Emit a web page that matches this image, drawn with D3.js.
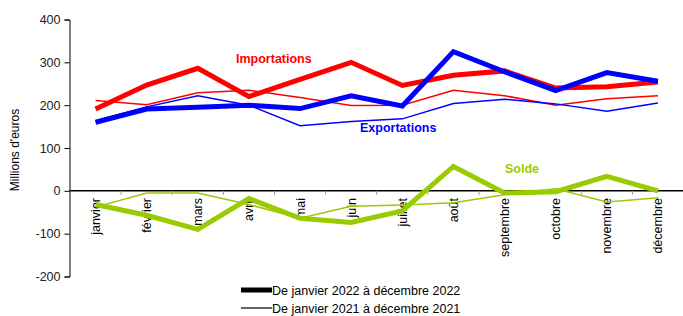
<!DOCTYPE html>
<html>
<head>
<meta charset="utf-8">
<script src="https://d3js.org/d3.v7.min.js"></script>
<style>
  body { margin: 0; background: #fff; }
  svg { display: block; font-family: "Liberation Sans", Arial, sans-serif; }
</style>
</head>
<body>
<div id="chart"></div>
<script>
// months on the category axis
var months = ["janvier", "février", "mars", "avril", "mai", "juin", "juillet", "août", "septembre", "octobre", "novembre", "décembre"];
var yTicks = [-200, -100, 0, 100, 200, 300, 400];

// 2022 (thick lines)
var imp2022 = [191, 247, 286, 220, 260, 300, 246, 270, 280, 240, 243, 254];
var exp2022 = [160, 191, 195, 200, 192, 222, 198, 325, 278, 234, 276, 256];
var solde2022 = [-32, -57, -90, -18, -64, -74, -47, 57, -5, -2, 34, 0];

// 2021 (thin lines)
var imp2021 = [211, 201, 229, 235, 218, 199, 200, 235, 222, 200, 215, 222];
var exp2021 = [164, 196, 222, 200, 152, 162, 168, 204, 214, 203, 186, 205];
var solde2021 = [-38, -5, -5, -32, -64, -36, -33, -28, -9, 5, -26, -16];

var W = 683, H = 316;
var svg = d3.select("#chart").append("svg").attr("width", W).attr("height", H);

var x = d3.scaleBand().domain(months).range([70, 683.5]);
var y = d3.scaleLinear().domain([-200, 400]).range([276.5, 19.5]);
var cx = function (m) { return x(m) + x.bandwidth() / 2; };

// y axis (plain hyphen for negatives, like the original)
var yAxis = svg.append("g")
    .attr("transform", "translate(69.5,0)")
    .call(d3.axisLeft(y).tickValues(yTicks).tickSize(5).tickPadding(4).tickFormat(function (d) { return String(d); }));
yAxis.select(".domain").attr("stroke", "#000").attr("stroke-width", 1);
yAxis.selectAll(".tick line").attr("stroke", "#000");
yAxis.selectAll("text").attr("font-size", 12.5).attr("fill", "#222").attr("font-family", "Liberation Sans, Arial, sans-serif");

// zero line with small grey ticks between months
svg.append("line")
    .attr("x1", 69.5).attr("x2", W).attr("y1", y(0)).attr("y2", y(0))
    .attr("stroke", "#000").attr("stroke-width", 1.5);
months.slice(1).forEach(function (m) {
    svg.append("line")
        .attr("x1", x(m)).attr("x2", x(m))
        .attr("y1", y(0)).attr("y2", y(0) + 4)
        .attr("stroke", "#999").attr("stroke-width", 1);
});

// month labels, rotated
svg.append("g").selectAll("text").data(months).join("text")
    .attr("transform", function (m) { return "translate(" + (cx(m) + 4.5) + "," + 198 + ") rotate(-90)"; })
    .attr("text-anchor", "end")
    .attr("font-size", 12.5)
    .attr("fill", "#000")
    .text(function (m) { return m; });

// y title
svg.append("text")
    .attr("transform", "translate(19,150) rotate(-90)")
    .attr("text-anchor", "middle")
    .attr("font-size", 12)
    .attr("fill", "#000")
    .text("Millions d'euros");

var line = d3.line()
    .x(function (d, i) { return cx(months[i]); })
    .y(function (d) { return y(d); });

function drawSeries(vals, color, w) {
    svg.append("path")
        .datum(vals)
        .attr("d", line)
        .attr("fill", "none")
        .attr("stroke", color)
        .attr("stroke-width", w)
        .attr("stroke-linejoin", "miter");
}

var red = "#ff0000", blue = "#0000ff", green = "#99cc00";
drawSeries(imp2021, red, 1.5);
drawSeries(exp2021, blue, 1.5);
drawSeries(solde2021, green, 1.5);
drawSeries(imp2022, red, 5);
drawSeries(exp2022, blue, 5);
drawSeries(solde2022, green, 5);

// series labels
svg.append("text").attr("x", 236).attr("y", 63).attr("font-size", 12.5).attr("font-weight", "bold").attr("fill", red).text("Importations");
svg.append("text").attr("x", 360).attr("y", 132).attr("font-size", 12.5).attr("font-weight", "bold").attr("fill", blue).text("Exportations");
svg.append("text").attr("x", 505).attr("y", 173).attr("font-size", 12.5).attr("font-weight", "bold").attr("fill", green).text("Solde");

// legend
var legend = [
    { label: "De janvier 2022 à décembre 2022", w: 5, yy: 290 },
    { label: "De janvier 2021 à décembre 2021", w: 1.2, yy: 308 }
];
legend.forEach(function (l) {
    svg.append("line").attr("x1", 241).attr("x2", 272).attr("y1", l.yy).attr("y2", l.yy)
        .attr("stroke", "#000").attr("stroke-width", l.w);
    svg.append("text").attr("x", 272).attr("y", l.yy + 4.5).attr("font-size", 12.5).attr("fill", "#000").text(l.label);
});
</script>
</body>
</html>
